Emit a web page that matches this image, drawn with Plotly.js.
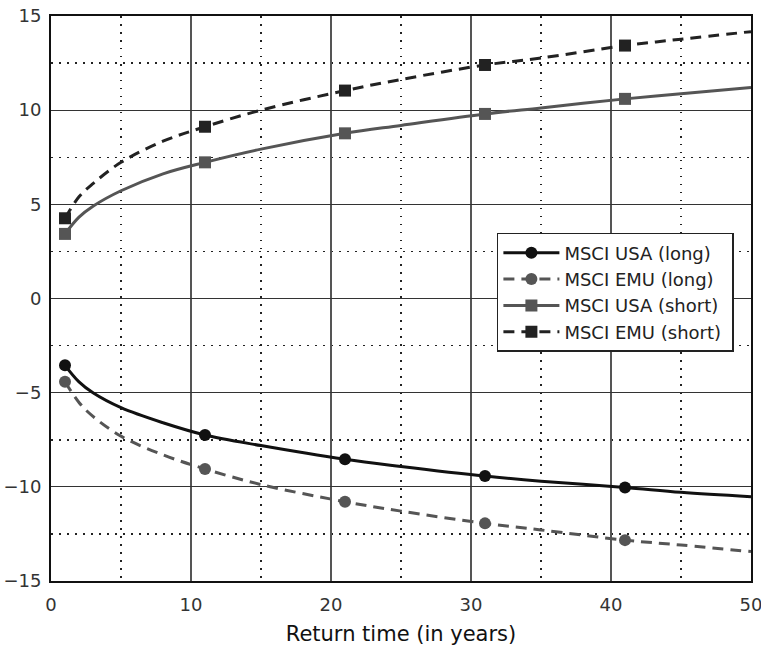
<!DOCTYPE html>
<html>
<head>
<meta charset="utf-8">
<script src="https://cdn.plot.ly/plotly-3.0.1.min.js"></script>
<style>html,body{margin:0;padding:0;background:#fff;}#chart{width:761px;height:652px;}</style>
</head>
<body>
<div id="chart"></div>
<script>
// Return times (years) at which the curves were read
const returnTime = [1, 2, 3, 5, 8, 11, 15, 21, 25, 31, 35, 41, 45, 50];
// Marker positions
const markerTime = [1, 11, 21, 31, 41];

const usaLong  = [-3.55, -4.43, -5.01, -5.80, -6.60, -7.25, -7.81, -8.54, -8.92, -9.43, -9.70, -10.03, -10.29, -10.52];
const emuLong  = [-4.42, -5.52, -6.26, -7.31, -8.30, -9.05, -9.88, -10.79, -11.29, -11.94, -12.29, -12.83, -13.09, -13.44];
const usaShort = [3.43, 4.32, 4.90, 5.72, 6.62, 7.23, 7.93, 8.77, 9.19, 9.80, 10.12, 10.60, 10.87, 11.20];
const emuShort = [4.26, 5.40, 6.10, 7.23, 8.35, 9.12, 10.00, 11.04, 11.63, 12.40, 12.77, 13.43, 13.77, 14.17];

const seriesNames = ['MSCI USA (long)', 'MSCI EMU (long)', 'MSCI USA (short)', 'MSCI EMU (short)'];
const seriesData = [usaLong, emuLong, usaShort, emuShort];
const seriesColor = ['#111111', '#555555', '#555555', '#222222'];
const seriesDash = ['solid', '11px,7px', 'solid', '11px,7px'];
const seriesSymbol = ['circle', 'circle', 'square', 'square'];

const traces = [];
seriesData.forEach((vals, i) => {
  traces.push({
    x: returnTime, y: vals, mode: 'lines', type: 'scatter',
    line: {color: seriesColor[i], width: 3, dash: seriesDash[i], shape: 'spline', smoothing: 1},
    showlegend: false, hoverinfo: 'skip'
  });
  const my = markerTime.map(t => vals[returnTime.indexOf(t)]);
  traces.push({
    x: markerTime, y: my, mode: 'markers', type: 'scatter',
    marker: {color: seriesColor[i], size: 12, symbol: seriesSymbol[i]},
    showlegend: false
  });
});
seriesData.forEach((vals, i) => {
  traces.push({
    x: [null], y: [null], mode: 'lines+markers', type: 'scatter', name: seriesNames[i] + '\u00a0',
    line: {color: seriesColor[i], width: 3, dash: seriesDash[i]},
    marker: {color: seriesColor[i], size: 12, symbol: seriesSymbol[i]}
  });
});

const font = {family: 'DejaVu Sans, sans-serif', color: '#111'};

const layout = {
  width: 761, height: 652,
  margin: {l: 51, r: 10, t: 16, b: 71},
  paper_bgcolor: '#fff', plot_bgcolor: '#fff',
  font: Object.assign({size: 16}, font),
  showlegend: true,
  legend: {
    x: 0.637, y: 0.616, xanchor: 'left', yanchor: 'top',
    bgcolor: '#fff', bordercolor: '#222', borderwidth: 1.5,
    itemwidth: 56,
    font: Object.assign({}, font, {size: 18, color: '#222'})
  },
  xaxis: {
    range: [0, 50], dtick: 10, tick0: 0,
    showline: true, linecolor: '#111', linewidth: 2, mirror: true,
    showgrid: true, gridcolor: '#555', gridwidth: 1.3,
    minor: {dtick: 5, showgrid: true, gridcolor: '#222', gridwidth: 1.5, griddash: '1.5px,6.5px'},
    zeroline: false, ticks: '', ticklabelstandoff: 6, ticklabeloverflow: 'allow',
    tickfont: Object.assign({}, font, {size: 18, color: '#333'}),
    title: {text: 'Return time (in years)', font: Object.assign({}, font, {size: 21}), standoff: 13}
  },
  yaxis: {
    range: [-15, 15], dtick: 5, tick0: 0,
    showline: true, linecolor: '#111', linewidth: 2, mirror: true,
    showgrid: true, gridcolor: '#333', gridwidth: 1.3,
    minor: {dtick: 2.5, showgrid: true, gridcolor: '#222', gridwidth: 1.5, griddash: '1.5px,6.5px'},
    zeroline: false, ticks: '', ticklabelstandoff: 4,
    tickfont: Object.assign({}, font, {size: 18, color: '#333'})
  }
};

Plotly.newPlot('chart', traces, layout, {displayModeBar: false, staticPlot: true});
</script>
</body>
</html>
